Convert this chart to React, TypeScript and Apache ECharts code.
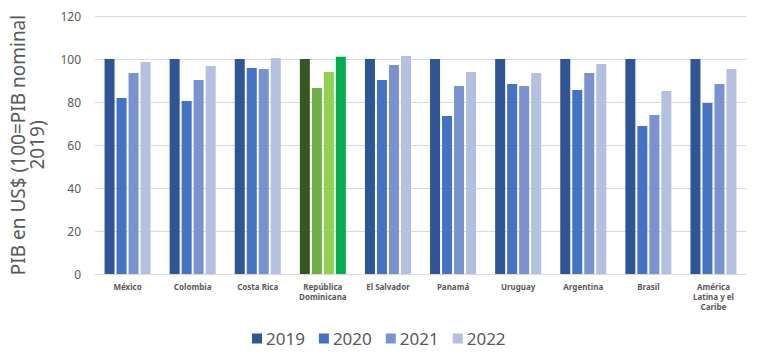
import React, { useEffect, useRef } from "react";
import * as echarts from "echarts";

const categories = [
  "México",
  "Colombia",
  "Costa Rica",
  "República\nDominicana",
  "El Salvador",
  "Panamá",
  "Uruguay",
  "Argentina",
  "Brasil",
  "América\nLatina y el\nCaribe",
];
const years = ["2019", "2020", "2021", "2022"];
const v2019 = [100, 100, 100, 100, 100, 100, 100, 100, 100, 100];
const v2020 = [81.9, 80.5, 95.8, 86.5, 90.2, 73.5, 88.4, 85.6, 68.8, 79.5];
const v2021 = [93.5, 90.2, 95.3, 94.0, 97.2, 87.4, 87.4, 93.5, 74.0, 88.4];
const v2022 = [98.6, 96.7, 100.5, 101.0, 101.4, 94.0, 93.5, 97.7, 85.1, 95.3];

const blueColors = ["#2F5597", "#4472C4", "#7A93D0", "#B4C0E0"];
const greenColors = ["#375623", "#70AD47", "#92D050", "#00B050"];
const highlightIndex = 3;

export default function App() {
  const ref = useRef<HTMLDivElement>(null);
  useEffect(() => {
    if (!ref.current) return;
    const chart = echarts.init(ref.current, undefined, { renderer: "svg" });
    const all = [v2019, v2020, v2021, v2022];
    chart.setOption({
      animation: false,
      textStyle: { fontFamily: "'Noto Sans', sans-serif" },
      grid: { left: 91, right: 12, top: 16, bottom: 87 },
      legend: {
        top: 325,
        left: 247,
        itemWidth: 10,
        itemHeight: 10,
        itemGap: 14,
        icon: "rect",
        textStyle: { fontSize: 17, color: "#595959", padding: [0, 0, 0, -1] },
        data: years,
      },
      xAxis: {
        type: "category",
        data: categories,
        axisLine: { lineStyle: { color: "#D9D9D9" } },
        axisTick: { show: false },
        axisLabel: {
          interval: 0,
          fontSize: 8,
          fontWeight: "bold",
          color: "#595959",
          lineHeight: 10,
          margin: 7,
        },
      },
      yAxis: {
        type: "value",
        min: 0,
        max: 120,
        interval: 20,
        name: "PIB en US$ (100=PIB nominal\n2019)",
        nameLocation: "middle",
        nameGap: 49,
        nameTextStyle: { fontSize: 19, color: "#595959", lineHeight: 19 },
        axisLabel: { fontSize: 12, color: "#595959", margin: 14 },
        splitLine: { lineStyle: { color: "#D9D9D9", width: 1 } },
        axisLine: { show: false },
        axisTick: { show: false },
      },
      series: years.map((y, si) => ({
        name: y,
        type: "bar",
        barWidth: 10,
        barGap: "20%",
        itemStyle: { color: blueColors[si] },
        data: all[si].map((v, ci) =>
          ci === highlightIndex
            ? { value: v, itemStyle: { color: greenColors[si] } }
            : v
        ),
      })),
    });
    return () => chart.dispose();
  }, []);
  return (
    <div
      ref={ref}
      style={{ position: "absolute", left: 0, top: 0, width: 758, height: 361 }}
    />
  );
}
